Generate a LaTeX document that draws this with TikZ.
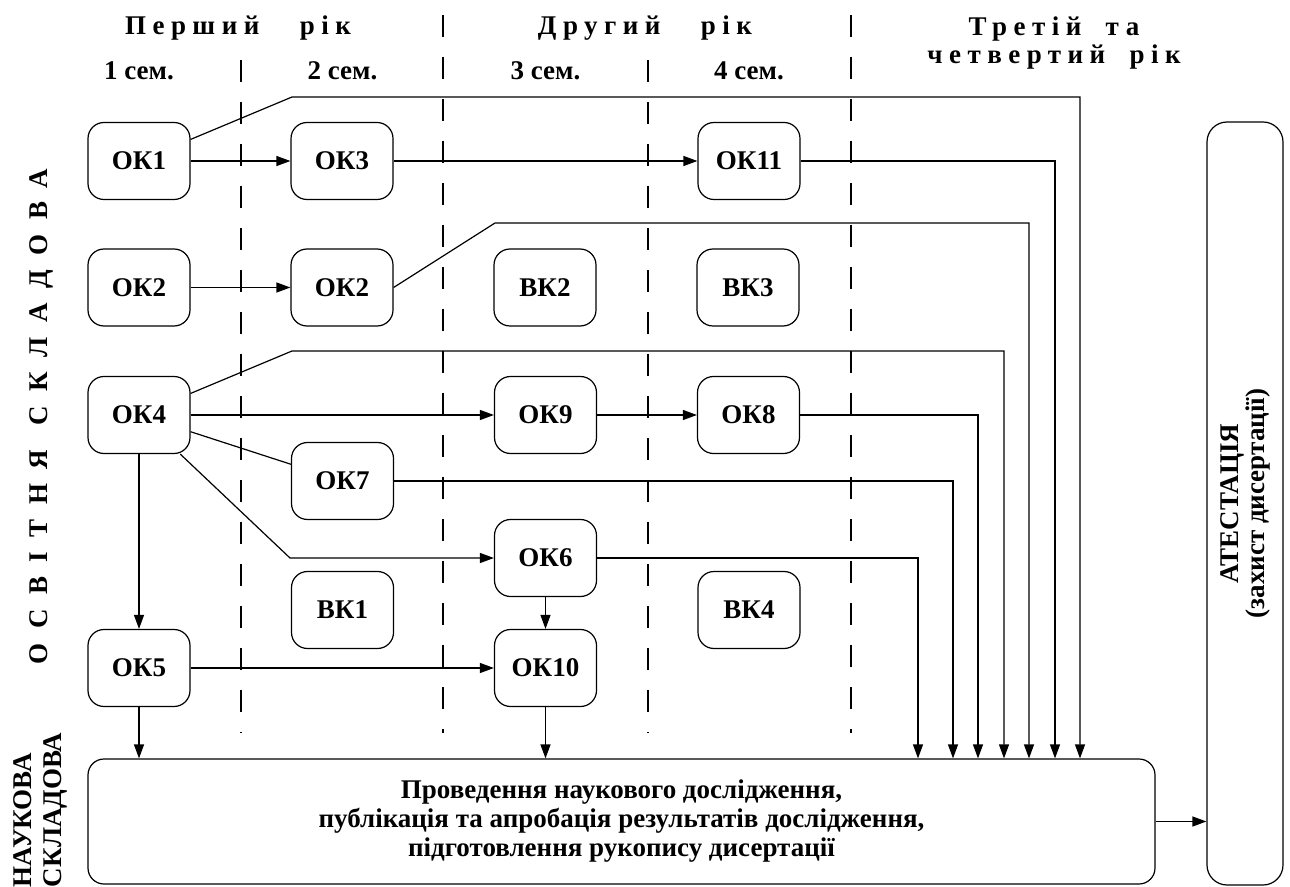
\documentclass[tikz,border=0pt]{standalone}
\usepackage{fontspec}
\setmainfont{Liberation Serif}
\newfontfamily\spacedfont[LetterSpace=24]{Liberation Serif}
\newfontfamily\widefont[LetterSpace=54]{Liberation Serif}
\usetikzlibrary{positioning, arrows.meta}
\tikzset{
>={Triangle[length=7pt, width=5pt]}, % filled arrow heads
every node/.style={font=\bfseries\fontsize{13.5}{14.5}\selectfont}, % all text is bold
course/.style={draw, rounded corners=8pt, minimum width=51pt, minimum height=38.5pt, inner sep=0pt}, % one course of the programme
border/.style={dash pattern=on 11pt off 10pt}, % border between two semesters
node distance=101.5pt, % distance between two semester columns
}

\begin{document}
\begin{tikzpicture}[x=0.5pt, y=-0.5pt, line width=0.6pt]
    \useasboundingbox (0,0) rectangle (1290,887);
    % years and semesters
    \node[anchor=base] (year1) at (238,35) {\spacedfont Перший\hspace{1.5em}рік};
    \node[anchor=base] (year2) at (645,35) {\spacedfont Другий\hspace{1.5em}рік};
    \node[align=center, font=\bfseries\fontsize{13.5}{14}\selectfont] (year3) at (1054,43) {\spacedfont Третій\hspace{0.9em}та\\ \spacedfont четвертий\hspace{0.9em}рік};
    \foreach \n/\x in {1/139, 2/342.5, 3/545.5, 4/749}
        \node[anchor=base] (sem\n) at (\x,80) {\n{} сем.};
    \foreach \x/\t in {241/60, 443/15, 648/60, 851/15}
        \draw[border] (\x,\t) -- (\x,733);
    % side labels
    \node[rotate=90, anchor=base] (edu) at (47,417) {\widefont ОСВІТНЯ\hspace{0.9em}СКЛАДОВА};
    \node[rotate=90, align=left, font=\bfseries\fontsize{13.5}{15}\selectfont] (sci) at (40,810) {НАУКОВА\\СКЛАДОВА};
    % courses
    \node[course] (ok1) at (139,161) {ОК1};
    \node[course, right of=ok1] (ok3) {ОК3};
    \node[course] (ok11) at (749,161) {ОК11};
    \node[course] (ok2a) at (139,287.5) {ОК2};
    \node[course, right of=ok2a] (ok2b) {ОК2};
    \node[course, right of=ok2b] (vk2) {ВК2};
    \node[course, right of=vk2] (vk3) {ВК3};
    \node[course] (ok4) at (139,415) {ОК4};
    \node[course] (ok9) at (545.5,415) {ОК9};
    \node[course, right of=ok9] (ok8) {ОК8};
    \node[course] (ok7) at (342.5,481) {ОК7};
    \node[course] (ok6) at (545.5,558) {ОК6};
    \node[course] (vk1) at (342.5,610) {ВК1};
    \node[course] (vk4) at (749,610) {ВК4};
    \node[course] (ok5) at (139,668) {ОК5};
    \node[course] (ok10) at (545.5,668) {ОК10};
    % research and attestation
    \node[draw, rounded corners=8pt, minimum width=533.5pt, minimum height=62.5pt, align=center] (res) at (621.5,821.5)
        {Проведення наукового дослідження,\\ публікація та апробація результатів дослідження,\\ підготовлення рукопису дисертації};
    \node[draw, rotate=90, rounded corners=10pt, minimum width=381.5pt, minimum height=38pt, align=center,
        font=\bfseries\fontsize{13.5}{13}\selectfont] (att) at (1245,503.5) {АТЕСТАЦІЯ\\ (захист дисертації)};
    % bends of the long connectors
    \coordinate (k1) at (292,97);
    \coordinate (k2) at (495,223);
    \coordinate (k3) at (292,351);
    \coordinate (k4) at (290,558);
    \foreach \n/\x in {1/918, 2/953, 3/978, 4/1004, 5/1029, 6/1055, 7/1080}
        \coordinate (d\n) at (\x,0);
    % connectors
    \draw[->] (ok1) -- (ok3);
    \draw[->] (ok3) -- (ok11);
    \draw[->] (ok2a) -- (ok2b);
    \draw[->] (ok4) -- (ok9);
    \draw[->] (ok9) -- (ok8);
    \draw (ok4) -- (ok7);
    \draw[->] (ok4) -- (k4) -- (ok6);
    \draw[->] (ok4) -- (ok5);
    \draw[->] (ok6) -- (ok10);
    \draw[->] (ok5) -- (ok10);
    \draw[->] (ok5) -- (ok5 |- res.north);
    \draw[->] (ok10) -- (ok10 |- res.north);
    \draw[->] (ok1) -- (k1) -| (d7 |- res.north);
    \draw[->] (ok11) -| (d6 |- res.north);
    \draw[->] (ok2b.east) -- (k2) -| (d5 |- res.north);
    \draw[->] (ok4) -- (k3) -| (d4 |- res.north);
    \draw[->] (ok8) -| (d3 |- res.north);
    \draw[->] (ok7) -| (d2 |- res.north);
    \draw[->] (ok6) -| (d1 |- res.north);
    \draw[->] (res.east) -- (res.east -| att.north);
\end{tikzpicture}
\end{document}
